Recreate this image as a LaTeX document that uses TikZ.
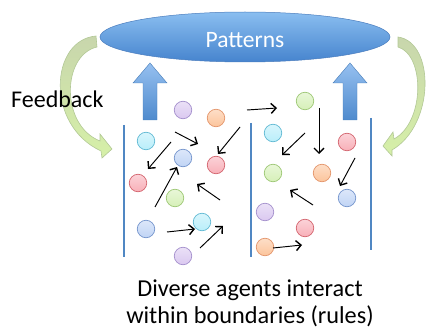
\documentclass[tikz,border=0pt]{standalone}
\usepackage{fontspec}
\setmainfont{Carlito}
\usetikzlibrary{arrows.meta,shapes.geometric}

% palette
\definecolor{ellTop}{RGB}{138,190,240}
\definecolor{ellBot}{RGB}{70,132,206}
\definecolor{ellLine}{RGB}{75,125,190}
\definecolor{upTop}{RGB}{150,192,240}
\definecolor{upBot}{RGB}{78,138,205}
\definecolor{wall}{RGB}{80,135,195}
\definecolor{fbTop}{RGB}{200,214,172}
\definecolor{fbBot}{RGB}{214,240,168}
\definecolor{fbLine}{RGB}{178,200,150}
% agent colours: fill / rim
\definecolor{purF}{RGB}{218,200,240}\definecolor{purD}{RGB}{165,145,205}
\definecolor{oraF}{RGB}{252,196,155}\definecolor{oraD}{RGB}{228,150,108}
\definecolor{cyaF}{RGB}{185,238,250}\definecolor{cyaD}{RGB}{98,186,212}
\definecolor{bluF}{RGB}{192,212,245}\definecolor{bluD}{RGB}{118,150,205}
\definecolor{redF}{RGB}{248,175,184}\definecolor{redD}{RGB}{212,102,112}
\definecolor{greF}{RGB}{214,240,184}\definecolor{greD}{RGB}{158,200,118}

\tikzset{
  agent/.style={circle, minimum size=17.5pt, inner sep=0pt, line width=0.7pt,
    draw=#1D, top color=#1F!55!white, bottom color=#1F},
  move/.style={line width=0.95pt, black,
    -{Straight Barb[length=5pt,width=10pt,line width=1.4pt]}},
  upshape/.style={top color=upTop, bottom color=upBot, draw=upBot!90!black, line width=0.4pt},
  fbshape/.style={top color=fbTop, bottom color=fbBot, draw=fbLine, line width=0.6pt},
  wallline/.style={wall, line width=2pt},
  label/.style={font=\fontsize{24.3}{28}\selectfont, text=black, inner sep=0pt}
}

\begin{document}
\begin{tikzpicture}[x=1pt,y=-1pt]
\useasboundingbox (0,0) rectangle (429,329);

% the emergent patterns
\node[ellipse, minimum width=290pt, minimum height=50pt, inner sep=0pt,
      top color=ellTop, bottom color=ellBot, draw=ellLine, line width=0.5pt] (pat) at (245,37) {};
\node[font=\fontsize{23.5}{26}\selectfont, text=white, anchor=base, inner sep=0pt]
  (patlbl) at (245,48) {Patterns};

% feedback loops
\shade[fbshape] (96,36) .. controls (50,40) and (45,125) .. (101,151)
  -- (102,158) -- (112,149) -- (100,134) -- (100,141)
  .. controls (60,125) and (62,55) .. (97,47) -- cycle;
\shade[fbshape] (398,37) .. controls (435,42) and (435,125) .. (392,150)
  -- (392,156) -- (383,146) -- (393,132) -- (394,139)
  .. controls (425,122) and (425,55) .. (398,47) -- cycle;
\node[label, font=\fontsize{24}{28}\selectfont, anchor=base west] (fb) at (11,107) {Feedback};

% upward block arrows
\shade[upshape] (143,120) -- (143,83) -- (133,83) -- (150,63) -- (167,83)
  -- (157,83) -- (157,120) -- cycle;
\shade[upshape] (343,120) -- (343,83) -- (333,83) -- (350,63) -- (367,83)
  -- (357,83) -- (357,120) -- cycle;

% boundaries
\coordinate (w1a) at (124,125); \coordinate (w1b) at (124,257);
\coordinate (w2a) at (251,123); \coordinate (w2b) at (251,257);
\coordinate (w3a) at (371,118); \coordinate (w3b) at (371,250);
\draw[wallline] (w1a) -- (w1b);
\draw[wallline] (w2a) -- (w2b);
\draw[wallline] (w3a) -- (w3b);

% agents
\foreach \n/\c/\x/\y in {
  a1/pur/183/110, a2/ora/216/118, a3/cya/146/141, a4/blu/183/158,
  a5/red/216/165, a6/red/138/183, a7/gre/175/198, a8/blu/146/229,
  a9/cya/202/222, a10/pur/183/256,
  b1/gre/305/101, b2/cya/273/133, b3/red/347/142, b4/gre/273/173,
  b5/ora/322/173, b6/blu/347/198, b7/pur/265/212, b8/red/305/228,
  b9/ora/265/247}
  \node[agent=\c] (\n) at (\x,\y) {};

% interactions
\foreach \n/\xa/\ya/\xb/\yb in {
  m1/175/132/198/144, m2/171/142/148/169, m3/240/127/218/154,
  m4/155/207/177/167, m5/220/200/197/184, m6/167/232/195/229,
  m7/200/248/223/226, m8/247/110/277/108, m9/319/108/319/154,
  m10/305/133/282/155, m11/355/158/340/186, m12/313/205/290/190,
  m13/273/248/302/245}
{
  \coordinate (\n s) at (\xa,\ya);
  \coordinate (\n e) at (\xb,\yb);
  \draw[move] (\n s) -- (\n e);
}

\node[label, anchor=base] (rules1) at (250,296) {Diverse agents interact};
\node[label, anchor=base] (rules2) at (250,323) {within boundaries (rules)};
\end{tikzpicture}
\end{document}
